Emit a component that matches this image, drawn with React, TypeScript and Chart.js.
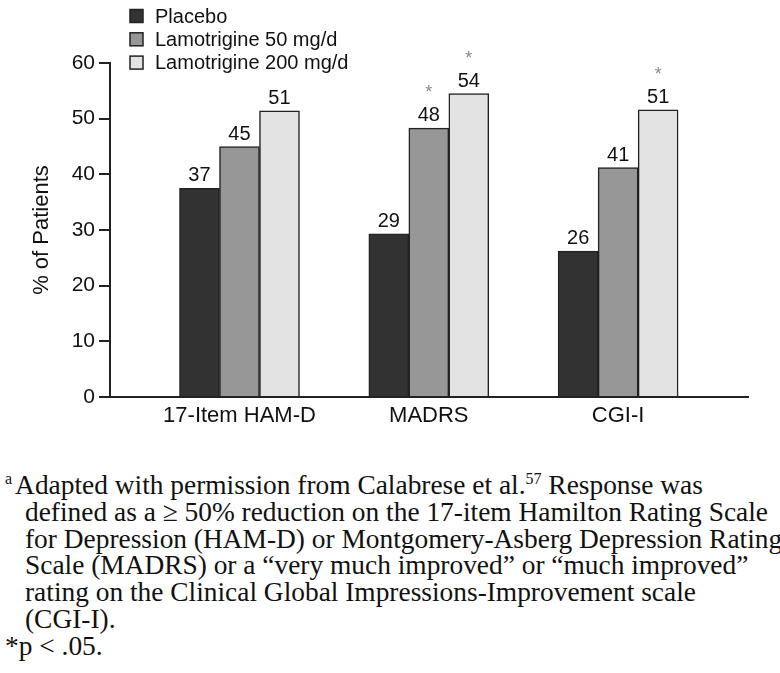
import React, { useEffect, useRef } from "react";
import { Chart, registerables } from "chart.js";

Chart.register(...registerables);

const categories = ["17-Item HAM-D", "MADRS", "CGI-I"];
const seriesNames = ["Placebo", "Lamotrigine 50 mg/d", "Lamotrigine 200 mg/d"];
const placebo = [37.5, 29.3, 26.2];
const lamo50 = [45, 48.3, 41.2];
const lamo200 = [51.4, 54.5, 51.6];
const placeboLabels = ["37", "29", "26"];
const lamo50Labels = ["45", "48", "41"];
const lamo200Labels = ["51", "54", "51"];
const placeboSig = [false, false, false];
const lamo50Sig = [false, true, false];
const lamo200Sig = [false, true, true];
const yTicks = [0, 10, 20, 30, 40, 50, 60];

const colors = ["#323232", "#979797", "#e3e3e3"];
const SANS = "'Liberation Sans', Arial, Helvetica, sans-serif";

const labelPlugin = {
  id: "valueLabels",
  afterDatasetsDraw(chart: any) {
    const ctx = chart.ctx;
    ctx.save();
    chart.data.datasets.forEach((ds: any, di: number) => {
      const meta = chart.getDatasetMeta(di);
      meta.data.forEach((bar: any, i: number) => {
        const x = bar.x;
        const top = bar.y;
        ctx.fillStyle = "#111";
        ctx.font = `20px ${SANS}`;
        ctx.textAlign = "center";
        ctx.textBaseline = "alphabetic";
        ctx.fillText(ds.valueLabels[i], x, top - 7);
        if (ds.sig[i]) {
          ctx.fillStyle = "#8a8a8a";
          ctx.font = `18px ${SANS}`;
          ctx.fillText("*", x, top - 30);
        }
      });
    });
    ctx.restore();
  },
};

const legendPlugin = {
  id: "customLegend",
  afterDraw(chart: any) {
    const ctx = chart.ctx;
    ctx.save();
    chart.data.datasets.forEach((ds: any, i: number) => {
      const cy = 16 + i * 23.3;
      ctx.fillStyle = ds.backgroundColor;
      ctx.fillRect(130, cy - 6.5, 13, 13);
      ctx.strokeStyle = "#222";
      ctx.lineWidth = 1.5;
      ctx.strokeRect(130, cy - 6.5, 13, 13);
      ctx.fillStyle = "#111";
      ctx.font = `20px ${SANS}`;
      ctx.textAlign = "left";
      ctx.textBaseline = "middle";
      ctx.fillText(ds.label, 155, cy + 1);
    });
    ctx.restore();
  },
};

function ChartView() {
  const ref = useRef<HTMLCanvasElement>(null);
  useEffect(() => {
    if (!ref.current) return;
    const mk = (vals: number[]) => vals.map((v, i) => ({ x: i, y: v }));
    const chart = new Chart(ref.current, {
      type: "bar",
      data: {
        datasets: [
          { label: seriesNames[0], data: mk(placebo), backgroundColor: colors[0], valueLabels: placeboLabels, sig: placeboSig },
          { label: seriesNames[1], data: mk(lamo50), backgroundColor: colors[1], valueLabels: lamo50Labels, sig: lamo50Sig },
          { label: seriesNames[2], data: mk(lamo200), backgroundColor: colors[2], valueLabels: lamo200Labels, sig: lamo200Sig },
        ].map((d: any) => ({ ...d, borderColor: "#222", borderWidth: 1.5, barThickness: 40, grouped: true })),
      } as any,
      options: {
        animation: false,
        responsive: false,
        maintainAspectRatio: false,
        layout: { padding: { top: 63, right: 32, left: 0, bottom: 23 } },
        plugins: { legend: { display: false }, tooltip: { enabled: false } },
        scales: {
          x: {
            type: "linear",
            min: -0.684,
            max: 2.686,
            offset: false,
            grid: { display: false, drawTicks: false, offset: false },
            border: { display: true, color: "#222", width: 2 },
            afterBuildTicks: (scale: any) => {
              scale.ticks = categories.map((_, i) => ({ value: i }));
            },
            afterFit: (scale: any) => {
              scale.height = 40;
            },
            ticks: {
              padding: 6,
              color: "#111",
              font: { family: SANS, size: 22 },
              maxRotation: 0,
              autoSkip: false,
              callback: (v: any) => categories[Math.round(Number(v))] ?? "",
            },
          },
          y: {
            min: 0,
            max: 60,
            afterBuildTicks: (scale: any) => {
              scale.ticks = yTicks.map((v) => ({ value: v }));
            },
            afterFit: (scale: any) => {
              scale.width = 110;
            },
            grid: { drawOnChartArea: false, drawTicks: true, tickLength: 11, color: "#222", lineWidth: 2 },
            border: { display: true, color: "#222", width: 2 },
            ticks: {
              padding: 4,
              color: "#111",
              font: { family: SANS, size: 21 },
            },
            title: {
              display: true,
              text: "% of Patients",
              color: "#111",
              font: { family: SANS, size: 22 },
              padding: { top: 29, bottom: 0 },
            },
          },
        },
      } as any,
      plugins: [labelPlugin, legendPlugin],
    });
    return () => chart.destroy();
  }, []);
  return <canvas ref={ref} width={780} height={460} style={{ position: "absolute", left: 0, top: 0, width: 780, height: 460 }} />;
}

const lineStyle: React.CSSProperties = { whiteSpace: "nowrap", height: 26.8 };
const contStyle: React.CSSProperties = { ...lineStyle, paddingLeft: 20 };
const supStyle: React.CSSProperties = { fontSize: 16, position: "relative", top: -10, lineHeight: 0 };

export default function App() {
  return (
    <div style={{ position: "absolute", left: 0, top: 0, width: 780, height: 673, background: "#fff", overflow: "hidden" }}>
      <ChartView />
      <div
        style={{
          position: "absolute",
          left: 5,
          top: 472,
          fontFamily: "'Liberation Serif', 'Times New Roman', serif",
          fontSize: 27.4,
          lineHeight: "26.8px",
          color: "#111",
        }}
      >
        <div style={lineStyle}>
          <span style={{ ...supStyle, marginRight: 3 }}>a</span>Adapted with permission from Calabrese et al.<span style={supStyle}>57</span> Response was
        </div>
        <div style={contStyle}>defined as a ≥ 50% reduction on the 17-item Hamilton Rating Scale</div>
        <div style={contStyle}>for Depression (HAM-D) or Montgomery-Asberg Depression Rating</div>
        <div style={contStyle}>Scale (MADRS) or a “very much improved” or “much improved”</div>
        <div style={contStyle}>rating on the Clinical Global Impressions-Improvement scale</div>
        <div style={contStyle}>(CGI-I).</div>
        <div style={lineStyle}>*p &lt; .05.</div>
      </div>
    </div>
  );
}
